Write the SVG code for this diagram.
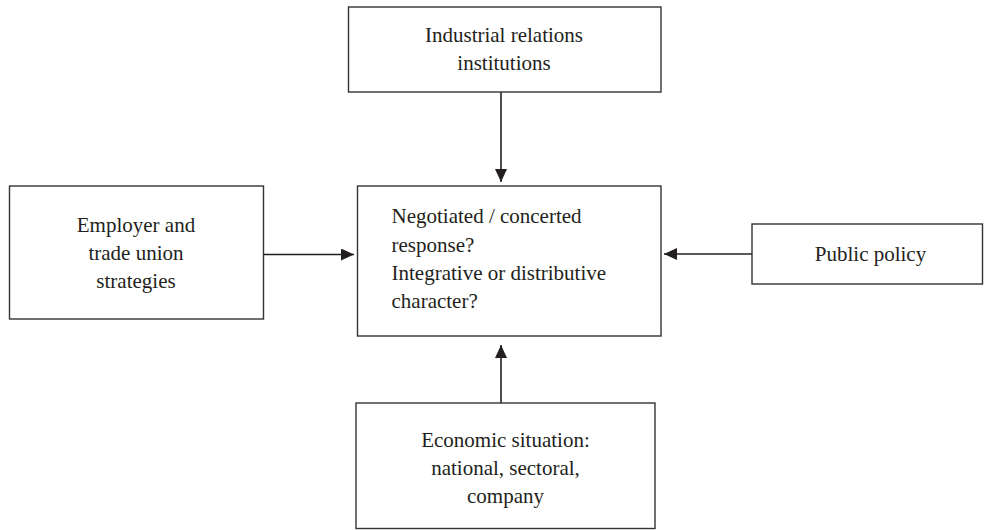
<svg xmlns="http://www.w3.org/2000/svg" width="984" height="530" viewBox="0 0 984 530">
<style>
.box{fill:#fff;stroke:#333;stroke-width:1.4}
.t{font-family:"Liberation Serif","Times New Roman",serif;font-size:21px;fill:#231f20}
.c{text-anchor:middle}
.conn{stroke:#231f20;stroke-width:1.6;fill:none;marker-end:url(#ah)}
</style>
<defs>
<marker id="ah" viewBox="0 0 13 12" refX="13" refY="6" markerWidth="13" markerHeight="12" markerUnits="userSpaceOnUse" orient="auto">
<path d="M0,0 L13,6 L0,12 z" fill="#231f20"/>
</marker>
</defs>
<rect width="984" height="530" fill="#fff"/>
<g id="connectors">
<line class="conn" x1="501" y1="92" x2="501" y2="182"/>
<line class="conn" x1="263.5" y1="254.5" x2="354" y2="254.5"/>
<line class="conn" x1="752" y1="254" x2="664" y2="254"/>
<line class="conn" x1="501" y1="403" x2="501" y2="345"/>
</g>
<g id="industrial">
<rect class="box" x="348.5" y="7" width="312.5" height="85"/>
<text class="t c" x="504" y="42">Industrial relations</text>
<text class="t c" x="504" y="70">institutions</text>
</g>
<g id="employer">
<rect class="box" x="9.5" y="186" width="254" height="133"/>
<text class="t c" x="136" y="232">Employer and</text>
<text class="t c" x="136" y="260">trade union</text>
<text class="t c" x="136" y="288">strategies</text>
</g>
<g id="response">
<rect class="box" x="357.5" y="186" width="303.5" height="150"/>
<text class="t" x="391.5" y="223">Negotiated / concerted</text>
<text class="t" x="391.5" y="252">response?</text>
<text class="t" x="391.5" y="280">Integrative or distributive</text>
<text class="t" x="391.5" y="308">character?</text>
</g>
<g id="public">
<rect class="box" x="752" y="224" width="230.5" height="60"/>
<text class="t c" x="870.5" y="261">Public policy</text>
</g>
<g id="economic">
<rect class="box" x="356" y="403" width="299" height="125.5"/>
<text class="t c" x="505.5" y="447">Economic situation:</text>
<text class="t c" x="505.5" y="475">national, sectoral,</text>
<text class="t c" x="505.5" y="503">company</text>
</g>
</svg>
